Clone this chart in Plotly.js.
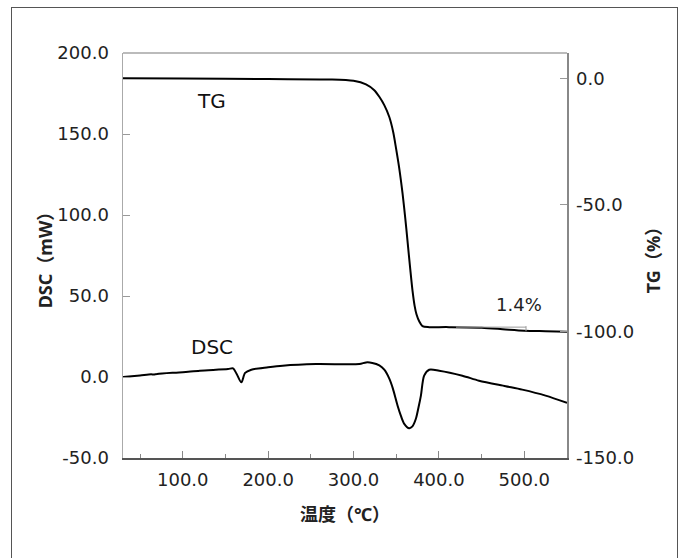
<!DOCTYPE html>
<html>
<head>
<meta charset="utf-8">
<script src="https://cdn.plot.ly/plotly-3.0.1.min.js"></script>
<style>
  html, body { margin: 0; padding: 0; background: #fff; overflow: hidden; }
  #frame { position: absolute; left: 11px; top: 7px; width: 667px; height: 600px; border: 1.5px solid #555; box-sizing: border-box; }
  #chart { position: absolute; left: 0; top: 0; width: 683px; height: 558px; }
</style>
</head>
<body>
<div id="frame"></div>
<div id="chart"></div>
<script>
// TG curve (temperature °C, mass change %)
const tgTemp = [30, 100, 200, 271.8, 300, 314.6, 324.3, 330.2, 336, 341.9, 346.5, 349.7, 353.5, 357.4, 360.5, 363.2, 366.4, 369.1, 371.6, 373.7, 376.9, 380.7, 388.6, 400, 411.9, 450, 478, 500, 525, 550];
const tgValue = [0.0, -0.1, -0.3, -0.45, -1.0, -2.4, -4.7, -7.3, -10.6, -15.3, -21.3, -27.5, -35.5, -45.5, -55.0, -64.2, -75.3, -84.0, -90.0, -93.2, -96.0, -97.9, -98.3, -98.3, -98.3, -98.5, -99.2, -99.7, -99.9, -100.1];

// DSC curve (temperature °C, heat flow mW)
const dscTemp = [30, 50, 63, 66, 70, 100, 120, 153, 158.9, 163, 168.6, 173, 180.3, 200, 217, 256, 306.8, 314.6, 322, 330.2, 336, 341.9, 346, 351.6, 355.5, 359.4, 365.2, 369, 373, 376, 378.9, 382.7, 388.6, 400.3, 427.5, 447, 478.2, 497.6, 524.9, 550];
const dscValue = [0.0, 1.0, 1.7, 1.5, 1.9, 3.0, 3.9, 4.9, 5.3, 2.0, -3.3, 2.5, 4.5, 6.0, 7.0, 8.0, 8.0, 9.0, 8.7, 7.2, 4.5, -1.0, -7.0, -17.7, -24.0, -28.9, -31.6, -30.5, -25.8, -19.0, -11.5, 0.8, 4.5, 3.9, 0.8, -2.3, -5.7, -7.8, -11.5, -16.0];

// Tick labels
const xTickVals = [100, 200, 300, 400, 500];
const xTickText = ["100.0", "200.0", "300.0", "400.0", "500.0"];
const yTickVals = [-50, 0, 50, 100, 150, 200];
const yTickText = ["-50.0", "0.0", "50.0", "100.0", "150.0", "200.0"];
const y2TickVals = [-150, -100, -50, 0];
const y2TickText = ["-150.0", "-100.0", "-50.0", "0.0"];

const FONT = "DejaVu Sans, Noto Sans CJK JP, sans-serif";
const TFONT = "Noto Sans, Noto Sans CJK JP, sans-serif";
const tickFont = { family: FONT, size: 18, color: '#222' };
const titleFont = { family: TFONT, size: 18, weight: 'bold', color: '#222' };

const traces = [
  { x: dscTemp, y: dscValue, type: 'scatter', mode: 'lines', yaxis: 'y',
    line: { color: '#000', width: 2, shape: 'spline', smoothing: 0.8 }, hoverinfo: 'skip' },
  { x: tgTemp, y: tgValue, type: 'scatter', mode: 'lines', yaxis: 'y2',
    line: { color: '#000', width: 2, shape: 'spline', smoothing: 0.8 }, hoverinfo: 'skip' }
];

const layout = {
  width: 683, height: 558,
  margin: { l: 123, r: 116, t: 53, b: 100, pad: 0 },
  paper_bgcolor: 'rgba(0,0,0,0)', plot_bgcolor: 'rgba(0,0,0,0)',
  showlegend: false,
  font: { family: FONT, size: 18, color: '#222' },
  xaxis: {
    range: [30, 550], showgrid: false, zeroline: false,
    showline: true, linecolor: '#555', linewidth: 1.5,
    ticks: 'inside', ticklen: 7, tickcolor: '#888', tickwidth: 1,
    tickvals: xTickVals, ticktext: xTickText, ticklabelstandoff: 5, tickfont: tickFont,
    minor: { dtick: 50, tick0: 0, ticks: 'inside', ticklen: 4, tickcolor: '#888', showgrid: false },
    title: { text: '温度（℃）', font: titleFont, standoff: 19 }
  },
  yaxis: {
    range: [-50, 200], showgrid: false, zeroline: false,
    showline: true, linecolor: '#aaa', linewidth: 1.5,
    ticks: 'inside', ticklen: 7, tickcolor: '#999', tickwidth: 1,
    tickvals: yTickVals, ticktext: yTickText, ticklabelstandoff: 9, tickfont: tickFont,
    title: { text: 'DSC（mW）', font: titleFont, standoff: 0 }
  },
  yaxis2: {
    overlaying: 'y', side: 'right', anchor: 'x',
    range: [-150, 10], showgrid: false, zeroline: false,
    showline: true, linecolor: '#888', linewidth: 1.5,
    ticks: 'inside', ticklen: 7, tickcolor: '#999', tickwidth: 1,
    tickvals: y2TickVals, ticktext: y2TickText, ticklabelstandoff: 4, tickfont: tickFont,
    title: { text: 'TG（%）', font: titleFont, standoff: 14 }
  },
  shapes: [
    { type: 'line', xref: 'paper', yref: 'paper', x0: 0, x1: 1, y0: 1, y1: 1, line: { color: '#bbb', width: 2 } },
    { type: 'line', xref: 'x', yref: 'y2', x0: 420, x1: 502, y0: -98.3, y1: -98.3, line: { color: '#999', width: 1 } },
    { type: 'line', xref: 'x', yref: 'y2', x0: 502, x1: 502, y0: -97.9, y1: -99.9, line: { color: '#999', width: 1 } }
  ],
  annotations: [
    { x: 134, y: -9.0, xref: 'x', yref: 'y2', text: 'TG', showarrow: false, font: { family: FONT, size: 20, color: '#111' } },
    { x: 134, y: 18.5, xref: 'x', yref: 'y', text: 'DSC', showarrow: false, font: { family: FONT, size: 20, color: '#111' } },
    { x: 494, y: -89.2, xref: 'x', yref: 'y2', text: '1.4%', showarrow: false, font: { family: FONT, size: 18, color: '#222' } }
  ]
};

Plotly.newPlot('chart', traces, layout, { displayModeBar: false, staticPlot: true });
</script>
</body>
</html>
